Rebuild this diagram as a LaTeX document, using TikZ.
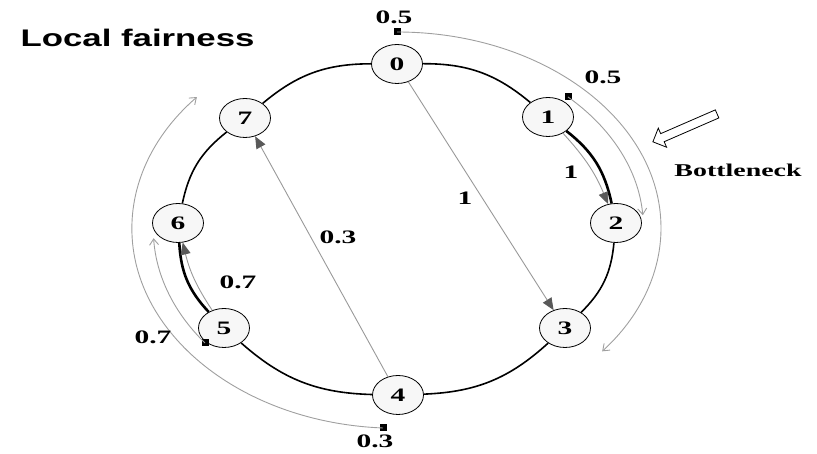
\documentclass[tikz,border=0pt]{standalone}
\usepackage{fontspec}
\usepackage{graphicx}
\setmainfont{Liberation Serif}
\newfontfamily\ttlfont{Liberation Sans}
\usetikzlibrary{arrows.meta,shapes.arrows,shapes.geometric}
\newcommand\xs[1]{\scalebox{1.55}[1]{#1}}
\begin{document}
\begin{tikzpicture}[x=1pt,y=1pt,
  station/.style={ellipse,draw=black,line width=0.8pt,fill=gray!6,minimum width=51pt,minimum height=39pt,inner sep=0pt,font=\bfseries\fontsize{19}{19}\selectfont},
  ring/.style={black,line width=1.6pt},
  hot/.style={black,line width=2.6pt},
  chord/.style={gray!80,line width=0.9pt,-{Triangle[length=12pt,width=10pt,color=black!65]}},
  outer/.style={gray!75,line width=0.9pt,-{Straight Barb[length=6pt,width=9pt]}},
  lbl/.style={font=\bfseries\fontsize{19}{19}\selectfont},
  dot/.style={rectangle,fill=black,inner sep=0pt,minimum size=7pt}
]
\useasboundingbox (0,0) rectangle (817,454);
% stations
\node[station] (n0) at (397,390) {\xs{0}};
\node[station] (n1) at (548,337) {\xs{1}};
\node[station] (n2) at (616,231) {\xs{2}};
\node[station] (n3) at (565,126) {\xs{3}};
\node[station] (n4) at (398,59) {\xs{4}};
\node[station] (n5) at (224,126) {\xs{5}};
\node[station] (n6) at (178,231) {\xs{6}};
\node[station] (n7) at (245,336) {\xs{7}};
% ring
\draw[ring] (n0) to[bend left=20] (n1);
\draw[hot]  (n1) to[bend left=20] (n2);
\draw[ring] (n2) to[bend left=20] (n3);
\draw[ring] (n3) to[bend left=20] (n4);
\draw[ring] (n4) to[bend left=20] (n5);
\draw[hot]  (n5) to[bend left=20] (n6);
\draw[ring] (n6) to[bend left=20] (n7);
\draw[ring] (n7) to[bend left=20] (n0);
% flows
\draw[chord] (n1) to[bend left=10] (n2);
\draw[chord] (n5) to[bend left=10] (n6);
\draw[chord] (n0) -- (n3);
\draw[chord] (n4) -- (n7);
% flow labels
\node[lbl] (l1) at (571,282) {\xs{1}};
\node[lbl] (l07a) at (238,172) {\xs{0.7}};
\node[lbl] (lc1) at (465,256) {\xs{1}};
\node[lbl] (lc03) at (338,217) {\xs{0.3}};
% source dots
\node[dot] (dA) at (397,422) {};
\node[dot] (dB) at (568,357) {};
\node[dot] (dC) at (383,26) {};
\node[dot] (dD) at (205,111) {};
% outer arcs
\draw[outer] (dA.center) arc[start angle=90,end angle=-39,x radius=264,y radius=196];
\draw[outer] (dB.center) arc[start angle=46,end angle=4,x radius=247,y radius=182];
\draw[outer] (dC.center) arc[start angle=267,end angle=139,x radius=265,y radius=200];
\draw[outer] (dD.center) arc[start angle=218,end angle=183,x radius=244,y radius=186];
% dot labels
\node[lbl] (ldA) at (394,437) {\xs{0.5}};
\node[lbl] (ldB) at (603,377) {\xs{0.5}};
\node[lbl] (ldC) at (375,13) {\xs{0.3}};
\node[lbl] (ldD) at (153,117) {\xs{0.7}};
% bottleneck
\node[single arrow,draw=black,line width=0.8pt,fill=white,minimum height=70pt,inner sep=4pt,single arrow head extend=6pt,rotate=203.5] (bn) at (687,327) {};
\node[font=\bfseries\fontsize{18}{18}\selectfont] (bt) at (738,284) {\xs{Bottleneck}};
% title
\node[anchor=west,font=\ttlfont\bfseries\fontsize{24}{24}\selectfont] (title) at (17,416) {\scalebox{1.45}[1]{Local fairness}};
\end{tikzpicture}
\end{document}
